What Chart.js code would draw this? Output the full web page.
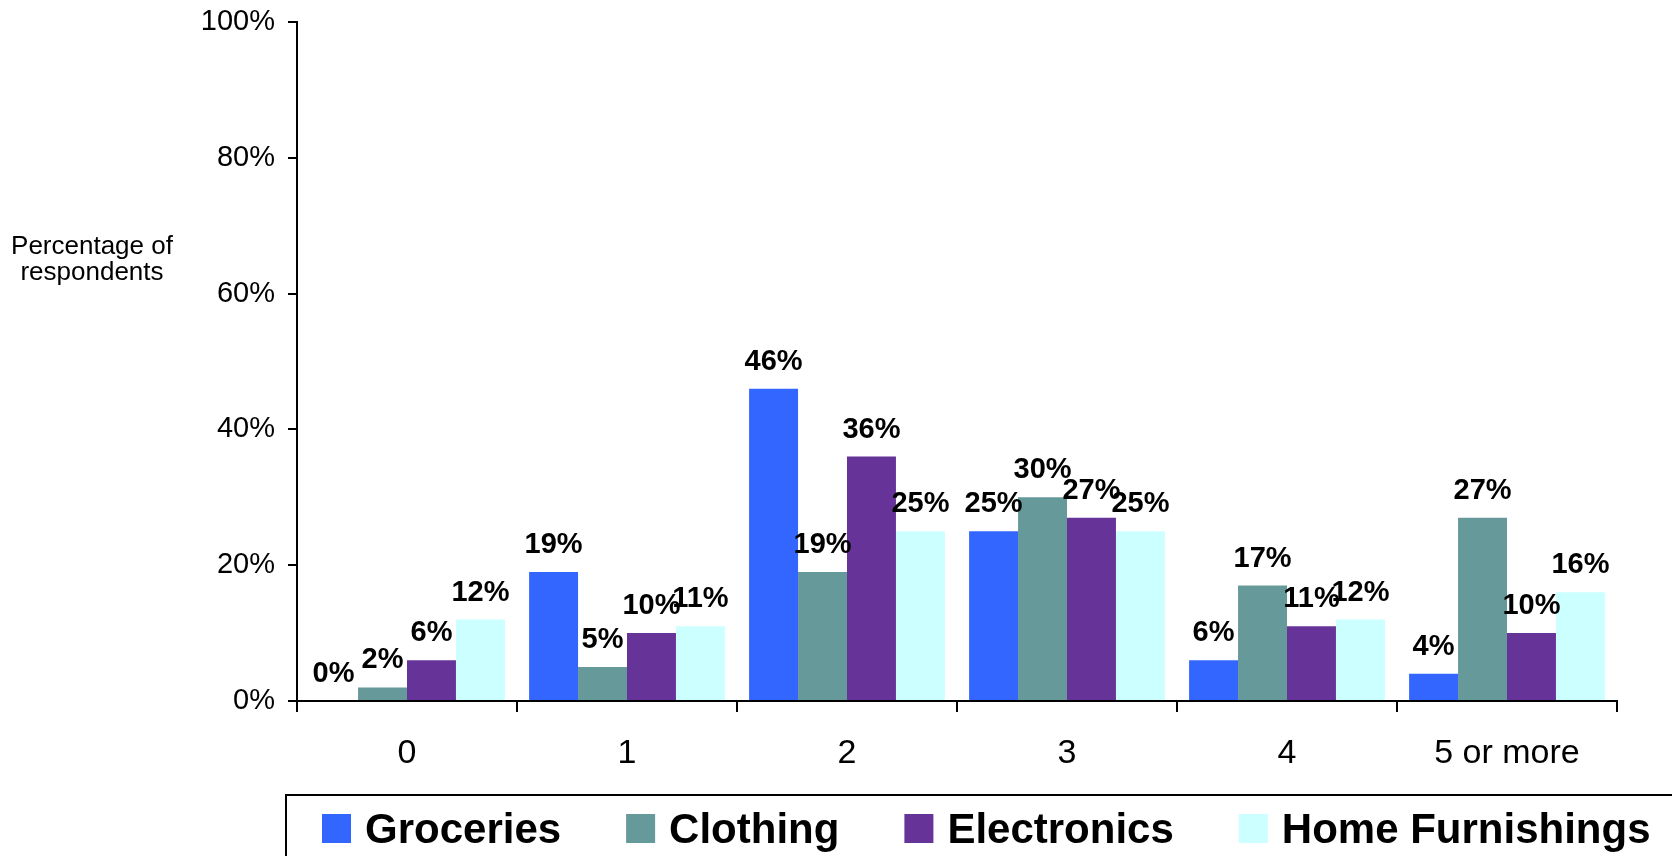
<!DOCTYPE html>
<html>
<head>
<meta charset="utf-8">
<title>Percentage of respondents</title>
<script src="https://cdn.jsdelivr.net/npm/chart.js@4.4.1/dist/chart.umd.min.js"></script>
<style>
  html, body { margin: 0; padding: 0; background: #fff; overflow: hidden; }
  canvas { display: block; }
</style>
</head>
<body>
<canvas id="storesChart" width="1672" height="856"></canvas>
<script>
// number of stores visited, by product type
const visits = ['0', '1', '2', '3', '4', '5 or more'];
const groceries = [0, 19, 46, 25, 6, 4];
const clothing = [2, 5, 19, 30, 17, 27];
const electronics = [6, 10, 36, 27, 11, 10];
const homeFurnishings = [12, 11, 25, 25, 12, 16];
const yTicks = [0, 20, 40, 60, 80, 100];

const FONT = '"Liberation Sans", Arial, sans-serif';

// value labels above every bar
const barLabels = {
  id: 'barLabels',
  afterDatasetsDraw(chart) {
    const ctx = chart.ctx;
    ctx.save();
    ctx.font = 'bold 29px ' + FONT;
    ctx.fillStyle = '#000';
    ctx.textAlign = 'center';
    ctx.textBaseline = 'alphabetic';
    chart.data.datasets.forEach((ds, i) => {
      chart.getDatasetMeta(i).data.forEach((bar, j) => {
        ctx.fillText(ds.data[j] + '%', bar.x, bar.y - 19);
      });
    });
    ctx.restore();
  }
};

// horizontal axis title on the left
const sideTitle = {
  id: 'sideTitle',
  afterDraw(chart) {
    const ctx = chart.ctx;
    ctx.save();
    ctx.font = '26px ' + FONT;
    ctx.fillStyle = '#000';
    ctx.textAlign = 'center';
    ctx.fillText('Percentage of', 92, 254);
    ctx.fillText('respondents', 92, 280);
    ctx.restore();
  }
};

// boxed legend along the bottom
const boxLegend = {
  id: 'boxLegend',
  afterDraw(chart) {
    const ctx = chart.ctx;
    ctx.save();
    ctx.strokeStyle = '#000';
    ctx.lineWidth = 2;
    ctx.strokeRect(286, 795, 1500, 100);
    ctx.font = 'bold 42px ' + FONT;
    ctx.textBaseline = 'alphabetic';
    ctx.textAlign = 'left';
    let x = 322;
    chart.data.datasets.forEach(ds => {
      ctx.fillStyle = ds.backgroundColor;
      ctx.fillRect(x, 814, 29, 29);
      ctx.fillStyle = '#000';
      ctx.fillText(ds.label, x + 43, 843);
      x += 43 + ctx.measureText(ds.label).width + 65;
    });
    ctx.restore();
  }
};

new Chart(document.getElementById('storesChart'), {
  type: 'bar',
  data: {
    labels: visits,
    datasets: [
      { label: 'Groceries', data: groceries, backgroundColor: '#3366FF' },
      { label: 'Clothing', data: clothing, backgroundColor: '#669999' },
      { label: 'Electronics', data: electronics, backgroundColor: '#663399' },
      { label: 'Home Furnishings', data: homeFurnishings, backgroundColor: '#CCFFFF' }
    ]
  },
  options: {
    responsive: false,
    animation: false,
    layout: { padding: { left: 0, top: 0, right: 55, bottom: 80 } },
    datasets: { bar: { categoryPercentage: 0.89, barPercentage: 1.0, borderWidth: 0 } },
    plugins: {
      legend: { display: false },
      tooltip: { enabled: false }
    },
    scales: {
      x: {
        grid: { drawOnChartArea: false, drawTicks: true, tickLength: 11, color: '#000', lineWidth: 2, offset: true },
        border: { color: '#000', width: 2 },
        ticks: { color: '#000', padding: 21, font: { family: FONT, size: 34 } },
        afterFit(scale) { scale.height = 75; }
      },
      y: {
        min: 0,
        max: 100,
        afterBuildTicks(scale) { scale.ticks = yTicks.map(v => ({ value: v })); },
        grid: { drawOnChartArea: false, drawTicks: true, tickLength: 9, color: '#000', lineWidth: 2 },
        border: { color: '#000', width: 2 },
        ticks: {
          color: '#000',
          padding: 13,
          font: { family: FONT, size: 29 },
          callback: v => v + '%'
        },
        afterFit(scale) {
          scale.width = 297;
          scale.paddingTop = 22;
        }
      }
    }
  },
  plugins: [barLabels, sideTitle, boxLegend]
});
</script>
</body>
</html>
